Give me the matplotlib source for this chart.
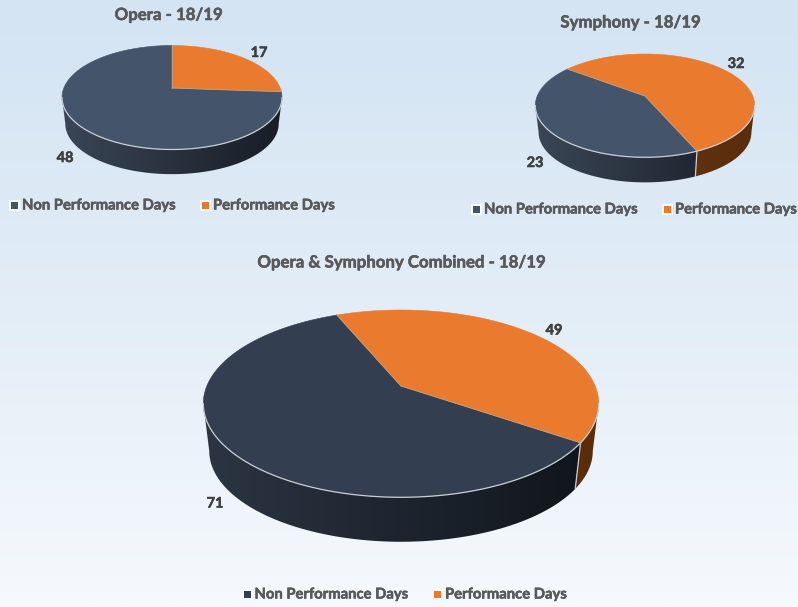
import numpy as np
import matplotlib
matplotlib.use("Agg")
import matplotlib.pyplot as plt
from matplotlib.patches import Polygon, Rectangle
from matplotlib.colors import LinearSegmentedColormap
import matplotlib.patheffects as pe

plt.rcParams['font.family'] = ['Lato', 'DejaVu Sans']

# ---- data ----
categories = ["Non Performance Days", "Performance Days"]
titles = ["Opera - 18/19", "Symphony - 18/19", "Opera & Symphony Combined - 18/19"]
opera_values = [48, 17]
symphony_values = [23, 32]
combined_values = [71, 49]

# ---- layout (pixels) ----
W, H = 798, 607
layouts = [
    dict(values=opera_values, title=titles[0], title_xy=(168.5, 15), apex=(172, 88), top=45.5, bot=149.5, rx=110, drop=26.5,
         start=0.0, top_col="#44546a", side_nav=("#3a4656", "#181d26"), side_or=("#7a3f12", "#5c2e0c"),
         labels=[(65, 158), (259, 53)], legend_y=205.5, leg=[(14, 22), (205, 213)]),
    dict(values=symphony_values, title=titles[1], title_xy=(630.5, 22.5), apex=(645, 96), top=54, bot=157.3, rx=109.7, drop=26.9,
         start=-53.0, top_col="#44546a", side_nav=("#3a4656", "#181d26"), side_or=("#6f3a12", "#5a2d0d"),
         labels=[(535, 163), (736, 64)], legend_y=209.5, leg=[(476, 484), (667, 675)]),
    dict(values=combined_values, title=titles[2], title_xy=(401, 262.5), apex=(401, 386), top=310, bot=497.3, rx=197.7, drop=47.8,
         start=-22.8, top_col="#333f50", side_nav=("#2c3543", "#10141b"), side_or=("#75390e", "#5a2c0a"),
         labels=[(215, 503.5), (554, 330.5)], legend_y=594.5, leg=[(247, 254.5), (437, 445)]),
]
ORANGE = "#ea7b2e"
EDGE = "#c9ced4"
BOLD = [pe.withStroke(linewidth=0.35)]

fig = plt.figure(figsize=(W / 100, H / 100), dpi=100)
ax = fig.add_axes([0, 0, 1, 1])
ax.set_xlim(0, W)
ax.set_ylim(H, 0)
ax.axis("off")

# background gradient
bg = LinearSegmentedColormap.from_list("bg", [(0, "#d4e4f3"), (0.4, "#dfebf6"), (0.75, "#ecf3fa"), (1, "#f6f9fd")])
ax.imshow(np.linspace(0, 1, 256)[:, None], extent=(0, W, H, 0), cmap=bg, aspect="auto", zorder=0)


def make_proj(L):
    up = L["apex"][1] - L["top"]
    dn = L["bot"] - L["apex"][1]
    k = (dn - up) / (dn + up)
    ry = up * (1 + k)
    rx = L["rx"] * np.sqrt(1 - k * k)
    ax0, ay0 = L["apex"]

    def proj(theta):
        t = np.radians(theta)
        u, v = np.sin(t), np.cos(t)
        w = 1 + k * v
        return ax0 + rx * u / w, ay0 - ry * v / w
    tan = np.degrees(np.arccos(-k))
    return proj, tan


def side_points(L, x, y, s=0.97):
    ax0, ay0 = L["apex"]
    return ax0 + s * (x - ax0), ay0 + s * (y - ay0) + L["drop"]


def label(xy, s, size, color, **kw):
    t = ax.text(*xy, s, va="center", fontsize=size, fontweight="bold", color=color, zorder=6, **kw)
    t.set_path_effects([pe.withStroke(linewidth=0.4, foreground=color)])


def draw_pie(L):
    proj, tan = make_proj(L)
    non, perf = L["values"]
    total = non + perf
    a0 = L["start"]
    a1 = a0 + 360.0 * perf / total
    a2 = a0 + 360.0
    ax0, ay0 = L["apex"]
    slices = [(a1, a2, L["top_col"], L["side_nav"]), (a0, a1, ORANGE, L["side_or"])]

    # sides
    xl = ax0 - L["rx"]
    xr = ax0 + L["rx"]
    for lo, hi, _, grad in slices:
        for off in (0, 360, -360):
            l = max(lo + off, tan)
            h = min(hi + off, 360 - tan)
            if h <= l:
                continue
            th = np.linspace(l, h, 200)
            x, y = proj(th)
            xb, yb = side_points(L, x, y)
            poly = Polygon(np.r_[np.c_[x, y], np.c_[xb, yb][::-1]], closed=True, fc="none", ec="none", transform=ax.transData)
            ax.add_patch(poly)
            ymin, ymax = L["top"], L["bot"] + L["drop"] + 4
            cm = LinearSegmentedColormap.from_list("s", grad)
            im = ax.imshow(np.linspace(0, 1, 256)[None, :], extent=(xl, xr, ymax, ymin), cmap=cm, aspect="auto", zorder=2)
            im.set_clip_path(poly)
    ax.set_xlim(0, W)
    ax.set_ylim(H, 0)

    # separator on the side
    b = a1 % 360
    if tan < b < 360 - tan:
        x, y = proj(np.array([b]))
        xb, yb = side_points(L, x, y)
        ax.plot([x[0], xb[0]], [y[0], yb[0]], color=EDGE, lw=0.9, zorder=3)

    # top faces
    for lo, hi, col, _ in slices:
        th = np.linspace(lo, hi, 300)
        x, y = proj(th)
        pts = np.r_[[[ax0, ay0]], np.c_[x, y]]
        ax.add_patch(Polygon(pts, closed=True, fc=col, ec=col, lw=0.4, zorder=4, joinstyle="round"))

    # radial edges between slices
    for a in (a0, a1):
        x, y = proj(np.array([a]))
        ax.plot([ax0, x[0]], [ay0, y[0]], color="#b9a48f", lw=0.7, alpha=0.8, zorder=5)

    # highlight on front rim
    th = np.linspace(tan, 360 - tan, 300)
    x, y = proj(th)
    ax.plot(x, y, color=EDGE, lw=0.9, zorder=5)

    # title
    label(L["title_xy"], L["title"], 12.1, "#595959", ha="center")
    # value labels
    for val, xy in zip(L["values"], L["labels"]):
        label(xy, str(val), 10.4, "#404040", ha="center")
    # legend
    yl = L["legend_y"]
    cols = ["#333f50" if L is layouts[2] else "#44546a", ORANGE]
    for cat, col, (xm, xt) in zip(categories, cols, L["leg"]):
        ax.add_patch(Rectangle((xm - 5.5, yl - 6), 11, 11, fc="white", ec="none", alpha=0.85, zorder=5))
        ax.add_patch(Rectangle((xm - 3.5, yl - 4), 7, 7, fc=col, ec="none", zorder=6))
        label((xt, yl), cat, 10.65, "#595959", ha="left")


for L in layouts:
    draw_pie(L)

fig.savefig("out.png", dpi=100)
